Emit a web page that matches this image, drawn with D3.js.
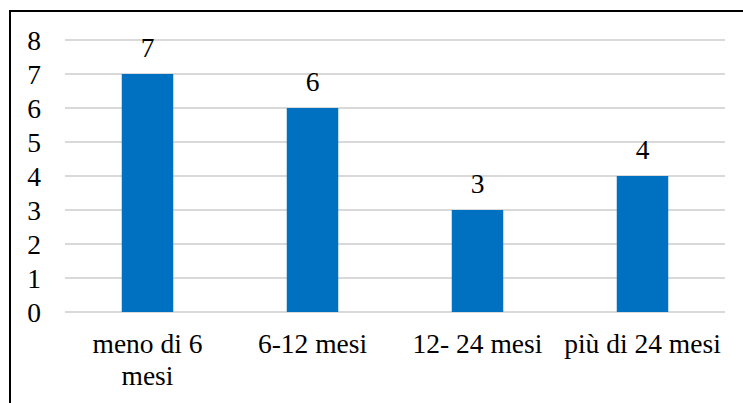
<!DOCTYPE html>
<html>
<head>
<meta charset="utf-8">
<script src="https://cdn.jsdelivr.net/npm/d3@7"></script>
<style>
  html, body { margin: 0; padding: 0; background: #fff; }
  svg { display: block; }
</style>
</head>
<body>
<svg id="chart" width="743" height="403"></svg>
<script>
const categories = ["meno di 6 mesi", "6-12 mesi", "12- 24 mesi", "più di 24 mesi"];
const values = [7, 6, 3, 4];
const yTicks = [0, 1, 2, 3, 4, 5, 6, 7, 8];

const svg = d3.select("#chart");
const W = 743, H = 403;
const margin = { left: 65, right: 18, top: 40, bottom: 91 };
const fontSize = 27.5;
const serif = "Liberation Serif";

// chart area frame
svg.append("rect")
  .attr("x", 10).attr("y", 11)
  .attr("width", W + 20).attr("height", H + 20)
  .attr("fill", "none").attr("stroke", "#000").attr("stroke-width", 2);

const x = d3.scaleBand()
  .domain(categories)
  .range([margin.left, W - margin.right])
  .paddingInner(0.688).paddingOuter(0.344);

const y = d3.scaleLinear()
  .domain([0, 8])
  .range([H - margin.bottom, margin.top]);

// horizontal gridlines
svg.append("g")
  .selectAll("line")
  .data(yTicks)
  .join("line")
  .attr("x1", margin.left).attr("x2", W - margin.right)
  .attr("y1", d => y(d)).attr("y2", d => y(d))
  .attr("stroke", "#d9d9d9").attr("stroke-width", 2);

// y axis labels
const yAxis = svg.append("g")
  .attr("transform", `translate(${margin.left},0)`)
  .call(d3.axisLeft(y).tickValues(yTicks).tickSize(0).tickPadding(31).tickFormat(d3.format("d")));
yAxis.select(".domain").remove();
yAxis.selectAll("text")
  .attr("font-family", serif)
  .attr("font-size", fontSize)
  .attr("fill", "#000")
  .attr("text-anchor", "middle")
  .attr("dy", "0.35em");

// bars
svg.append("g")
  .selectAll("rect")
  .data(values)
  .join("rect")
  .attr("x", (d, i) => x(categories[i]))
  .attr("y", d => y(d))
  .attr("width", x.bandwidth())
  .attr("height", d => y(0) - y(d))
  .attr("fill", "#0070c0");

// value labels
svg.append("g")
  .selectAll("text")
  .data(values)
  .join("text")
  .attr("font-family", serif)
  .attr("font-size", fontSize)
  .attr("x", (d, i) => x(categories[i]) + x.bandwidth() / 2)
  .attr("y", d => y(d) - 17)
  .attr("text-anchor", "middle")
  .text(d => d);

// category labels, wrapped to the available label width
const wrapWidth = 162;
const catG = svg.append("g");
categories.forEach(cat => {
  const cx = x(cat) + x.bandwidth() / 2;
  const t = catG.append("text")
    .attr("font-family", serif)
    .attr("font-size", fontSize)
    .attr("x", cx).attr("y", 353)
    .attr("text-anchor", "middle");
  const words = cat.split(" ");
  let line = [];
  let tspan = t.append("tspan").attr("x", cx).attr("dy", 0);
  words.forEach(w => {
    line.push(w);
    tspan.text(line.join(" "));
    if (tspan.node().getComputedTextLength() > wrapWidth && line.length > 1) {
      line.pop();
      tspan.text(line.join(" "));
      line = [w];
      tspan = t.append("tspan").attr("x", cx).attr("dy", 32).text(w);
    }
  });
});
</script>
</body>
</html>
